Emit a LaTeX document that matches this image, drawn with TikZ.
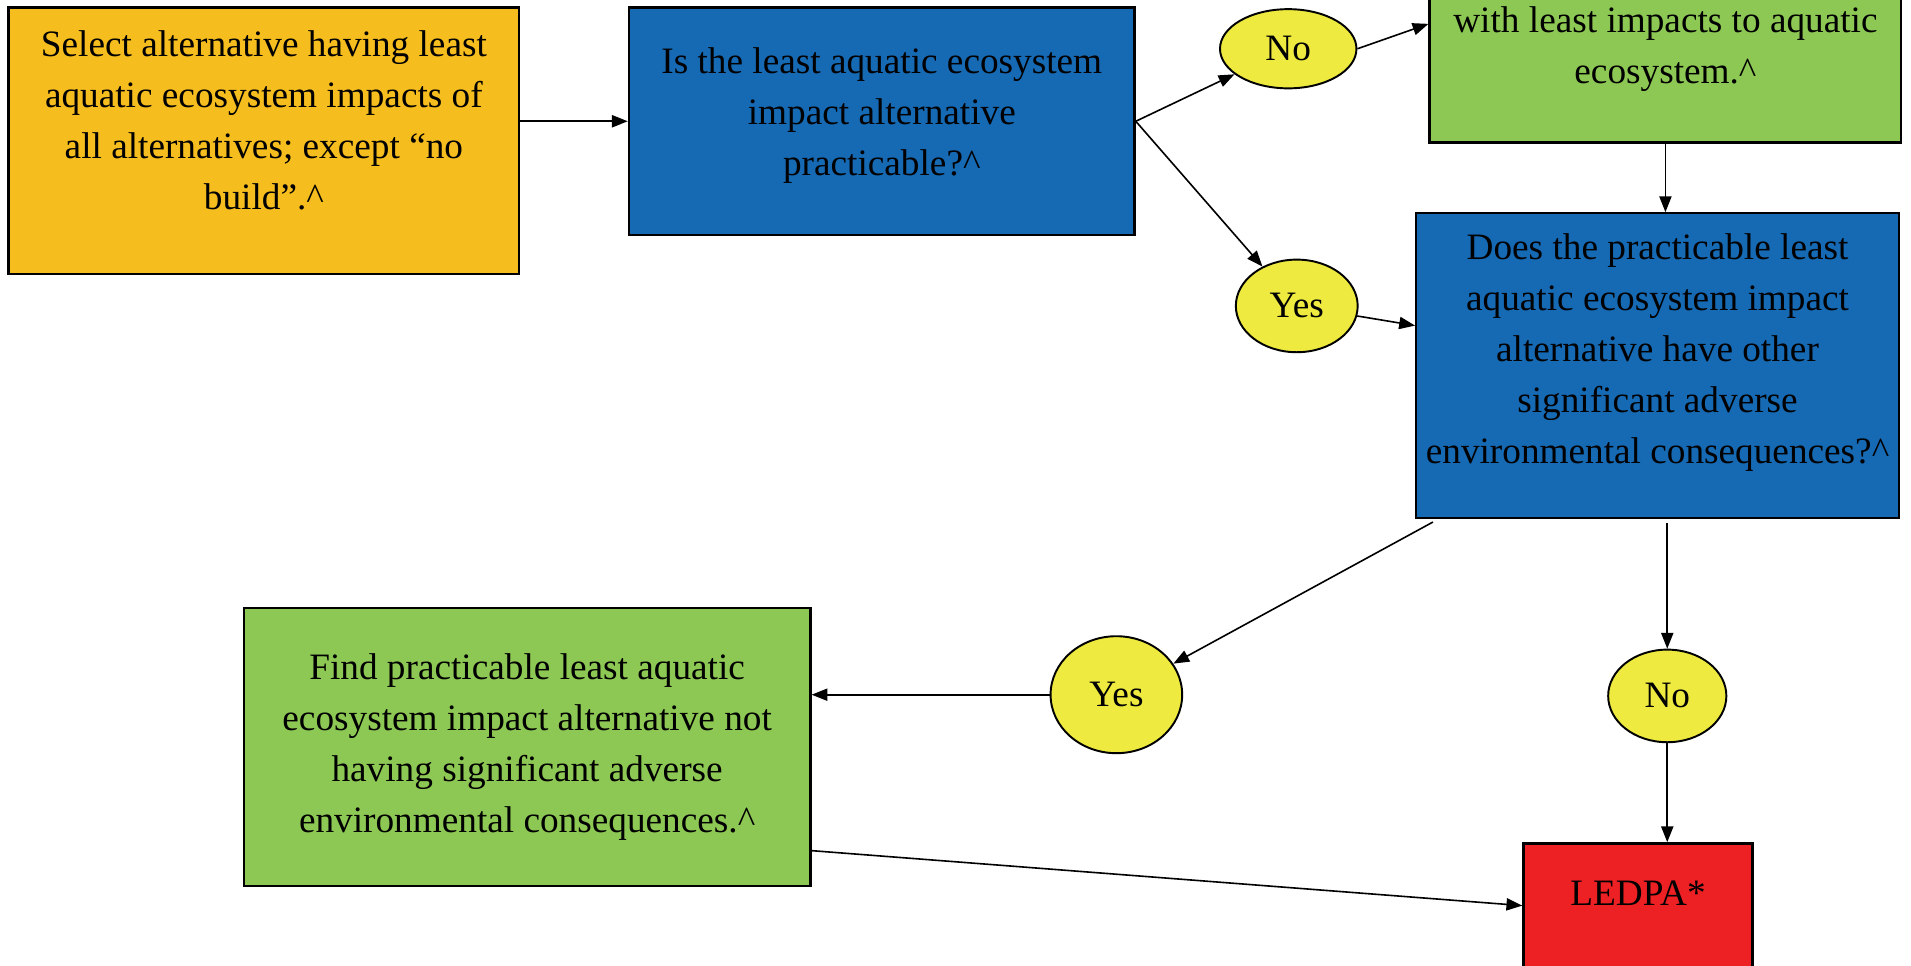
\documentclass[tikz,border=0pt]{standalone}
\usepackage{fontspec}
\setmainfont{Liberation Serif}
\usepackage{xcolor}
\usetikzlibrary{shapes.geometric,arrows.meta}

\definecolor{arancio}{RGB}{246,189,31}
\definecolor{blu}{RGB}{22,105,179}
\definecolor{verde}{RGB}{141,200,84}
\definecolor{giallo}{RGB}{238,234,64}
\definecolor{rosso}{RGB}{237,32,36}

\tikzset{
  testo/.style={font=\fontsize{17.4}{23.9}\selectfont},
  scatola/.style={testo, draw=black, line width=1.1pt, align=center, inner sep=0pt},
  bolla/.style={testo, ellipse, draw=black, line width=0.9pt, fill=giallo, inner sep=0pt},
  spingi/.style={execute at end node={\rule[-#1]{0pt}{0pt}}},
  freccia/.style={->, line width=0.75pt}
}

\begin{document}
\begin{tikzpicture}[x=0.02cm, y=-0.02cm, >={Triangle[length=0.26cm,width=0.2cm]}]

\clip (0,0) rectangle (1568,792);

% Riquadri
\node[scatola, fill=arancio, minimum width=8.38cm, minimum height=4.38cm, spingi=0.68cm] (sel) at (216.5,115.5)
  {Select alternative having least\\ aquatic ecosystem impacts of\\ all alternatives; except “no\\ build”.\textasciicircum};
\node[scatola, fill=blu, minimum width=8.30cm, minimum height=3.74cm, spingi=0.32cm] (q1) at (723.5,99.5)
  {Is the least aquatic ecosystem\\ impact alternative\\ practicable?\textasciicircum};
\node[scatola, fill=verde, minimum width=7.74cm, minimum height=3.08cm] (find1) at (1366.5,40)
  {with least impacts to aquatic\\ ecosystem.\textasciicircum};
\node[scatola, fill=blu, minimum width=7.92cm, minimum height=5.00cm, spingi=0.56cm] (q2) at (1360,300)
  {Does the practicable least\\ aquatic ecosystem impact\\ alternative have other\\ significant adverse\\ environmental consequences?\textasciicircum};
\node[scatola, fill=verde, minimum width=9.30cm, minimum height=4.56cm] (find2) at (432.5,613)
  {Find practicable least aquatic\\ ecosystem impact alternative not\\ having significant adverse\\ environmental consequences.\textasciicircum};
\node[scatola, fill=rosso, anchor=north, minimum width=3.76cm, minimum height=3.2cm, spingi=1.56cm] (ledpa) at (1344,691)
  {LEDPA*};

% Ellissi
\node[bolla, minimum width=2.24cm, minimum height=1.30cm] (no1) at (1057,40) {No};
\node[bolla, minimum width=2.00cm, minimum height=1.52cm] (yes1) at (1064,251) {Yes};
\node[bolla, minimum width=2.16cm, minimum height=1.92cm] (yes2) at (916,570) {Yes};
\node[bolla, minimum width=1.94cm, minimum height=1.52cm] (no2) at (1368,571) {No};

% Frecce
\draw[freccia] (sel.east |- q1.west) -- (q1.west);
\draw[freccia] (q1.east) -- (no1);
\draw[freccia] (q1.east) -- (yes1);
\draw[freccia] (no1.east) -- (find1.174);
\draw[freccia] (find1.south) -- (find1.south |- q2.north);
\draw[freccia] (yes1) -- (q2);
\draw[freccia, shorten <=0.1cm] (q2.215) -- (yes2);
\draw[freccia, shorten <=0.06cm] (q2.south -| no2) -- (no2);
\draw[freccia] (yes2.west) -- (yes2.west -| find2.east);
\draw[freccia] (no2.south) -- (no2.south |- ledpa.north);
\draw[freccia] (find2.-20) -- (ledpa.west |- ledpa.base);

\end{tikzpicture}
\end{document}
